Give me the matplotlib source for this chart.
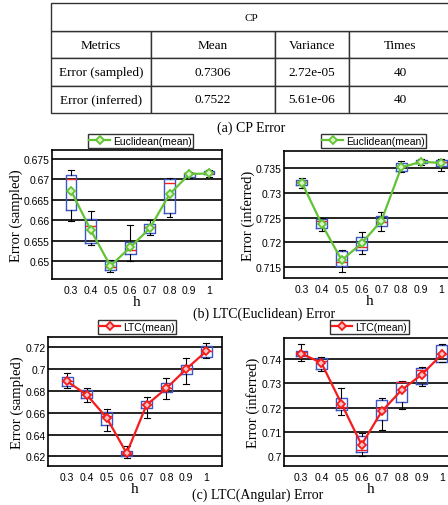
import numpy as np
import matplotlib.pyplot as plt

h_labels = ['0.3', '0.4', '0.5', '0.6', '0.7', '0.8', '0.9', '1']

# (a) tableau CP
cp_title = 'CP'
cp_columns = ['Metrics', 'Mean', 'Variance', 'Times']
cp_rows = [['Error (sampled)', '0.7306', '2.72e-05', '40'],
           ['Error (inferred)', '0.7522', '5.61e-06', '40']]

# (b) LTC(Euclidean) - erreur sampled
euc_s_lo = [0.6599, 0.6540, 0.6475, 0.6501, 0.6564, 0.6608, 0.6703, 0.6707]
euc_s_q1 = [0.6625, 0.6544, 0.6478, 0.6517, 0.6569, 0.6618, 0.6705, 0.6713]
euc_s_med = [0.6700, 0.6586, 0.6486, 0.6528, 0.6583, 0.6691, 0.6715, 0.6715]
euc_s_q3 = [0.6711, 0.6603, 0.6501, 0.6548, 0.6591, 0.6701, 0.6717, 0.6720]
euc_s_hi = [0.6724, 0.6622, 0.6504, 0.6590, 0.6602, 0.6703, 0.6719, 0.6723]
euc_s_mean = [0.6673, 0.6577, 0.6489, 0.6534, 0.6581, 0.6664, 0.6713, 0.6715]

# (b) LTC(Euclidean) - erreur inferred
euc_i_lo = [0.7310, 0.7223, 0.7140, 0.7177, 0.7223, 0.7342, 0.7356, 0.7345]
euc_i_q1 = [0.7317, 0.7229, 0.7153, 0.7184, 0.7234, 0.7344, 0.7361, 0.7355]
euc_i_med = [0.7323, 0.7244, 0.7160, 0.7190, 0.7241, 0.7355, 0.7364, 0.7363]
euc_i_q3 = [0.7326, 0.7248, 0.7182, 0.7210, 0.7253, 0.7361, 0.7366, 0.7366]
euc_i_hi = [0.7330, 0.7250, 0.7184, 0.7222, 0.7261, 0.7365, 0.7368, 0.7369]
euc_i_mean = [0.7321, 0.7237, 0.7164, 0.7198, 0.7244, 0.7352, 0.7363, 0.7361]

# (c) LTC(Angular) - erreur sampled
ang_s_lo = [0.6824, 0.6695, 0.6435, 0.6182, 0.6555, 0.6726, 0.6861, 0.7102]
ang_s_q1 = [0.6848, 0.6738, 0.6487, 0.6200, 0.6643, 0.6787, 0.6958, 0.7108]
ang_s_med = [0.6894, 0.6769, 0.6573, 0.6221, 0.6680, 0.6824, 0.7001, 0.7163]
ang_s_q3 = [0.6931, 0.6809, 0.6604, 0.6246, 0.6705, 0.6870, 0.7041, 0.7209]
ang_s_hi = [0.6961, 0.6824, 0.6634, 0.6298, 0.6747, 0.6922, 0.7105, 0.7240]
ang_s_mean = [0.6888, 0.6763, 0.6552, 0.6228, 0.6671, 0.6824, 0.7001, 0.7163]

# (c) LTC(Angular) - erreur inferred
ang_i_lo = [0.7390, 0.7349, 0.7171, 0.7003, 0.7108, 0.7195, 0.7288, 0.7386]
ang_i_q1 = [0.7411, 0.7359, 0.7189, 0.7019, 0.7147, 0.7225, 0.7297, 0.7389]
ang_i_med = [0.7427, 0.7393, 0.7201, 0.7027, 0.7200, 0.7304, 0.7356, 0.7420]
ang_i_q3 = [0.7434, 0.7403, 0.7241, 0.7082, 0.7231, 0.7307, 0.7362, 0.7458]
ang_i_hi = [0.7460, 0.7407, 0.7279, 0.7096, 0.7241, 0.7311, 0.7368, 0.7460]
ang_i_mean = [0.7422, 0.7384, 0.7216, 0.7047, 0.7184, 0.7273, 0.7336, 0.7419]

SERIF = 'Liberation Serif'
SANS = 'Liberation Sans'
W, H = 448, 506

fig = plt.figure(figsize=(W / 100, H / 100), dpi=100)


def rect(left, top, right, bottom):
    # coordonnées en pixels -> fractions de la figure
    return [left / W, 1 - bottom / H, (right - left) / W, (bottom - top) / H]


# 1. Tableau
tax = fig.add_axes(rect(51, 4, 451, 114))
tax.axis('off')
col_w = np.array([100, 124, 74, 102]) / 400
body = tax.table(cellText=[cp_columns] + cp_rows, colWidths=col_w,
                 cellLoc='center', bbox=[0, 0, 1, 82 / 110])
head = tax.table(cellText=[[cp_title]], colWidths=[1.0],
                 cellLoc='center', bbox=[0, 82 / 110, 1, 28 / 110])
for t in (body, head):
    t.auto_set_font_size(False)
    for cell in t.get_celld().values():
        cell.set_linewidth(1.0)
        cell.set_edgecolor('#333333')
        cell.get_text().set_fontfamily(SERIF)
        cell.get_text().set_fontsize(9.5)
head.get_celld()[(0, 0)].get_text().set_fontsize(8)

fig.text(251 / W, 1 - 128 / H, '(a) CP Error', family=SERIF, fontsize=10,
         ha='center', va='center')


def draw_panel(box, lo, q1, med, q3, hi, mean, ylim, yticks, ytl,
               ylabel, color, mfc, label, xlim, leg_box):
    ax = fig.add_axes(rect(*box))
    pos = np.arange(1, len(h_labels) + 1)
    stats = [dict(whislo=a, q1=b, med=c, q3=d, whishi=e, fliers=[])
             for a, b, c, d, e in zip(lo, q1, med, q3, hi)]
    ax.bxp(stats, positions=pos, widths=0.55, manage_ticks=False,
           boxprops=dict(color='#3a55c8', lw=1.0),
           medianprops=dict(color='#ee2020', lw=1.0),
           whiskerprops=dict(color='black', lw=0.8),
           capprops=dict(color='black', lw=0.8),
           capwidths=0.3)
    ax.plot(pos, mean, '-D', color=color, lw=1.6, ms=4.5, mew=1.3,
            mfc=mfc, label=label, zorder=5)
    ax.set_xlim(*xlim)
    ax.set_ylim(*ylim)
    ax.set_xticks(pos)
    ax.set_xticklabels(h_labels)
    ax.set_yticks(yticks)
    ax.set_yticklabels(ytl)
    for tl in ax.get_xticklabels() + ax.get_yticklabels():
        tl.set_fontfamily(SANS)
        tl.set_fontsize(7.5)
    ax.tick_params(axis='x', length=0, pad=4)
    ax.tick_params(axis='y', length=0, pad=1.5)
    ax.yaxis.grid(True, color='black', lw=1.2)
    ax.set_axisbelow(True)
    for sp in ax.spines.values():
        sp.set_linewidth(1.2)
    ax.set_xlabel('h', family=SERIF, fontsize=11, labelpad=0)
    ax.set_ylabel(ylabel, family=SERIF, fontsize=10.5, labelpad=1)
    leg = ax.legend(loc='center', bbox_to_anchor=((leg_box[0] + leg_box[1]) / 2 / W,
                                                  1 - leg_box[2] / H),
                    bbox_transform=fig.transFigure, frameon=True, fancybox=False,
                    prop={'family': SANS, 'size': 7.5}, borderpad=0.15,
                    handlelength=2.0, handletextpad=0.3, borderaxespad=0)
    leg.get_frame().set_edgecolor('black')
    leg.get_frame().set_linewidth(1.0)
    return ax


green = '#62c335'
red = '#f41c1c'

draw_panel((52, 151, 222, 280), euc_s_lo, euc_s_q1, euc_s_med, euc_s_q3,
           euc_s_hi, euc_s_mean, (0.6457, 0.6772),
           [0.65, 0.655, 0.66, 0.665, 0.67, 0.675],
           ['0.65', '0.655', '0.66', '0.665', '0.67', '0.675'],
           'Error (sampled)', green, '#d8f5c0', 'Euclidean(mean)',
           (0.04, 8.66), (90, 191, 142))

draw_panel((284, 152, 455, 279), euc_i_lo, euc_i_q1, euc_i_med, euc_i_q3,
           euc_i_hi, euc_i_mean, (0.7128, 0.7385),
           [0.715, 0.72, 0.725, 0.73, 0.735],
           ['0.715', '0.72', '0.725', '0.73', '0.735'],
           'Error (inferred)', green, '#d8f5c0', 'Euclidean(mean)',
           (0.1, 8.7), (323, 424, 142))

draw_panel((48, 338, 222, 467), ang_s_lo, ang_s_q1, ang_s_med, ang_s_q3,
           ang_s_hi, ang_s_mean, (0.6111, 0.7295),
           [0.62, 0.64, 0.66, 0.68, 0.70, 0.72],
           ['0.62', '0.64', '0.66', '0.68', '0.7', '0.72'],
           'Error (sampled)', red, '#ffc0c0', 'LTC(mean)',
           (0.04, 8.8), (100, 174, 328))

draw_panel((284, 339, 458, 467), ang_i_lo, ang_i_q1, ang_i_med, ang_i_q3,
           ang_i_hi, ang_i_mean, (0.696, 0.7486),
           [0.70, 0.71, 0.72, 0.73, 0.74],
           ['0.7', '0.71', '0.72', '0.73', '0.74'],
           'Error (inferred)', red, '#ffc0c0', 'LTC(mean)',
           (0.14, 8.8), (331, 408, 328))

fig.text(264 / W, 1 - 314 / H, '(b) LTC(Euclidean) Error', family=SERIF,
         fontsize=10, ha='center', va='center')
fig.text(258 / W, 1 - 495 / H, '(c) LTC(Angular) Error', family=SERIF,
         fontsize=10, ha='center', va='center')

fig.savefig('out.png', dpi=100)
